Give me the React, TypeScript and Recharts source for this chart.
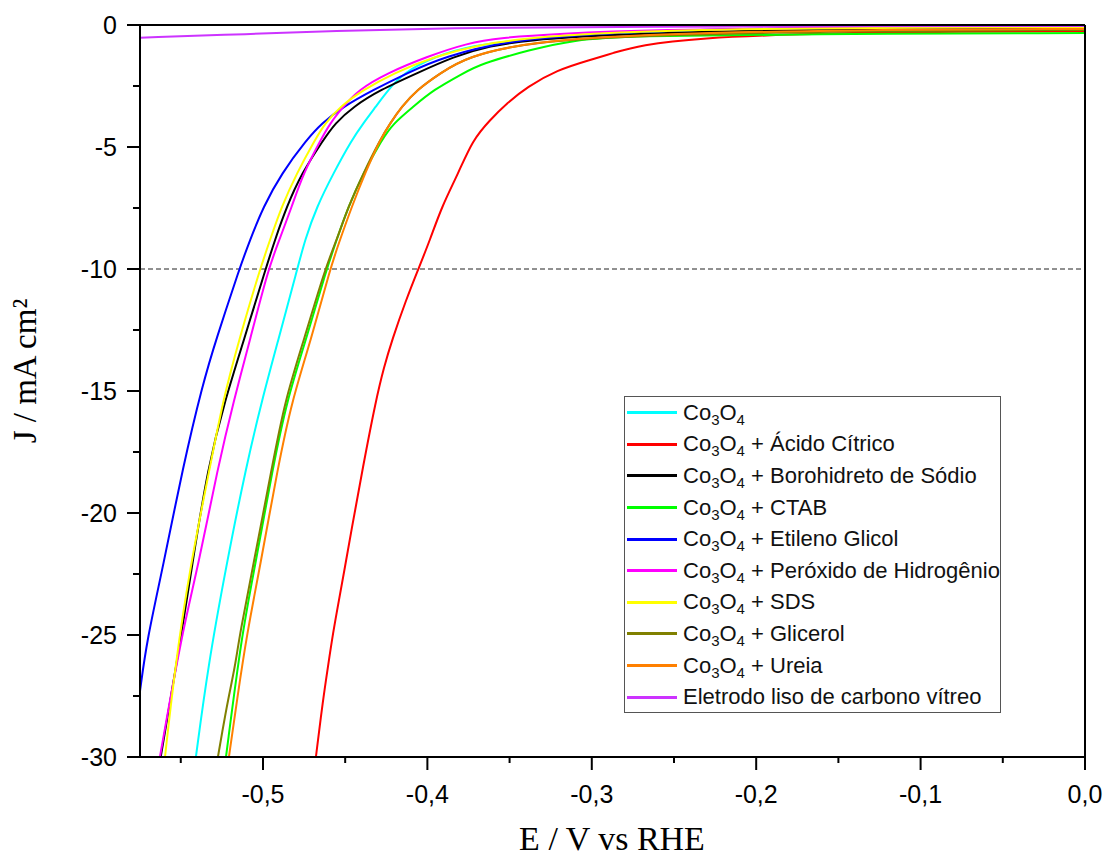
import React from 'react';
import { LineChart, Line, XAxis, YAxis, ReferenceLine, Legend } from 'recharts';

// [E (V vs RHE), J (mA cm-2)]
const co3o4: number[][] = [
  [-0.5408, -30], [-0.5335, -26.31], [-0.5225, -22.21], [-0.5103, -18.11], [-0.5006, -15.37],
  [-0.4907, -12.91], [-0.4791, -10.0], [-0.4745, -8.81], [-0.4673, -7.45], [-0.4572, -6.08],
  [-0.446, -4.71], [-0.439, -4.03], [-0.4314, -3.35], [-0.4238, -2.66], [-0.4147, -1.98],
  [-0.3964, -1.3], [-0.371, -0.82], [-0.3437, -0.61], [-0.295, -0.33], [-0.1734, -0.12], [0, -0.1],
];
const acidoCitrico: number[][] = [
  [-0.4678, -30], [-0.4635, -27.66], [-0.4605, -26.31], [-0.4574, -24.92], [-0.4538, -23.57],
  [-0.4501, -22.21], [-0.4465, -20.82], [-0.4392, -18.11], [-0.4313, -15.37], [-0.4264, -14.02],
  [-0.4215, -12.91], [-0.413, -11.27], [-0.4055, -10.0], [-0.3984, -8.81], [-0.3913, -7.45],
  [-0.3812, -6.08], [-0.3725, -4.71], [-0.3619, -3.89], [-0.3516, -3.2], [-0.3394, -2.54],
  [-0.3212, -1.84], [-0.3011, -1.43], [-0.2871, -1.15], [-0.2707, -0.82], [-0.2342, -0.53],
  [-0.1734, -0.37], [-0.1125, -0.29], [0, -0.25],
];
const borohidreto: number[][] = [
  [-0.5622, -30], [-0.5494, -24.92], [-0.5433, -22.21], [-0.5335, -18.11], [-0.5231, -15.37],
  [-0.5116, -12.91], [-0.4984, -10.0], [-0.4927, -8.81], [-0.4856, -7.45], [-0.4765, -6.08],
  [-0.4633, -4.71], [-0.4562, -4.03], [-0.4451, -3.35], [-0.4288, -2.66], [-0.4065, -1.98],
  [-0.3842, -1.3], [-0.3619, -0.85], [-0.3376, -0.62], [-0.295, -0.41], [-0.1734, -0.16], [0, -0.1],
];
const ctab: number[][] = [
  [-0.5225, -30], [-0.5128, -24.92], [-0.5049, -22.21], [-0.4939, -18.11], [-0.4854, -15.37],
  [-0.4739, -12.91], [-0.4613, -10.0], [-0.4552, -8.81], [-0.4481, -7.45], [-0.439, -6.08],
  [-0.4278, -4.71], [-0.4207, -4.03], [-0.4086, -3.35], [-0.3964, -2.66], [-0.3782, -1.98],
  [-0.368, -1.6], [-0.3376, -1.02], [-0.3114, -0.61], [-0.2768, -0.45], [-0.1734, -0.37], [0, -0.33],
];
const etilenoGlicol: number[][] = [
  [-0.5748, -27.3], [-0.5706, -25.2], [-0.5608, -22.21], [-0.5487, -18.11], [-0.5365, -14.67],
  [-0.5286, -12.91], [-0.5144, -10.0], [-0.5079, -8.81], [-0.4998, -7.45], [-0.4887, -6.08],
  [-0.4735, -4.71], [-0.4643, -4.03], [-0.4512, -3.35], [-0.4329, -2.66], [-0.4126, -1.98],
  [-0.3903, -1.3], [-0.3498, -0.62], [-0.295, -0.33], [-0.2038, -0.12], [0, -0.08],
];
const peroxido: number[][] = [
  [-0.5627, -30], [-0.5493, -24.92], [-0.5395, -22.21], [-0.5274, -18.11], [-0.5177, -15.37],
  [-0.5079, -12.91], [-0.4968, -10.0], [-0.4901, -8.81], [-0.4825, -7.45], [-0.4755, -6.08],
  [-0.4649, -4.71], [-0.4592, -4.03], [-0.4512, -3.35], [-0.442, -2.66], [-0.4248, -1.98],
  [-0.4004, -1.3], [-0.3761, -0.75], [-0.3558, -0.52], [-0.32, -0.36], [-0.2646, -0.2],
  [-0.1429, -0.08], [0, -0.04],
];
const sds: number[][] = [
  [-0.5596, -30], [-0.5535, -26.31], [-0.5444, -22.21], [-0.5322, -18.11], [-0.5243, -15.37],
  [-0.5146, -12.91], [-0.5018, -10.0], [-0.4957, -8.81], [-0.4887, -7.45], [-0.4795, -6.08],
  [-0.4684, -4.71], [-0.4623, -4.03], [-0.4532, -3.35], [-0.439, -2.66], [-0.4207, -1.98],
  [-0.3964, -1.3], [-0.368, -0.8], [-0.3437, -0.58], [-0.295, -0.29], [-0.1734, -0.12], [0, -0.08],
];
const glicerol: number[][] = [
  [-0.5274, -30], [-0.5249, -29.02], [-0.5213, -27.66], [-0.517, -26.31], [-0.514, -24.92],
  [-0.5061, -22.21], [-0.4945, -18.11], [-0.4866, -15.37], [-0.4751, -12.91], [-0.4623, -10.0],
  [-0.4552, -8.81], [-0.4481, -7.45], [-0.439, -6.08], [-0.4288, -4.71], [-0.4227, -4.03],
  [-0.4156, -3.35], [-0.4065, -2.66], [-0.3923, -1.98], [-0.3761, -1.3], [-0.3376, -0.68],
  [-0.2646, -0.42], [-0.1429, -0.25], [0, -0.2],
];
const ureia: number[][] = [
  [-0.5207, -30], [-0.5158, -27.66], [-0.5097, -24.92], [-0.5018, -22.21], [-0.4909, -18.11],
  [-0.4823, -15.37], [-0.4708, -12.91], [-0.4592, -10.0], [-0.4532, -8.81], [-0.446, -7.45],
  [-0.438, -6.08], [-0.4288, -4.71], [-0.4227, -4.03], [-0.4156, -3.35], [-0.4065, -2.66],
  [-0.3923, -1.98], [-0.3761, -1.3], [-0.3376, -0.68], [-0.2646, -0.37], [-0.1429, -0.2], [0, -0.16],
];
const carbonoVitreo: number[][] = [
  [-0.5748, -0.52], [-0.5079, -0.37], [-0.4592, -0.25], [-0.3863, -0.12], [-0.295, -0.06], [0, -0.04],
];

const seriesNames = [
  'Co3O4',
  'Co3O4 + Ácido Cítrico',
  'Co3O4 + Borohidreto de Sódio',
  'Co3O4 + CTAB',
  'Co3O4 + Etileno Glicol',
  'Co3O4 + Peróxido de Hidrogênio',
  'Co3O4 + SDS',
  'Co3O4 + Glicerol',
  'Co3O4 + Ureia',
  'Eletrodo liso de carbono vítreo',
];
const seriesColors = ['#00FFFF', '#FF0000', '#000000', '#00FF00', '#0000FF', '#FF00FF', '#FFFF00', '#808000', '#FF8000', '#CC33FF'];
const seriesData = [co3o4, acidoCitrico, borohidreto, ctab, etilenoGlicol, peroxido, sds, glicerol, ureia, carbonoVitreo];

const xTicks = [-0.55, -0.5, -0.45, -0.4, -0.35, -0.3, -0.25, -0.2, -0.15, -0.1, -0.05, 0];
const yTicks = [-30, -27.5, -25, -22.5, -20, -17.5, -15, -12.5, -10, -7.5, -5, -2.5, 0];

const SANS = '"Liberation Sans", Arial, sans-serif';
const SERIF = '"Liberation Serif", "Times New Roman", serif';

const toPts = (arr: number[][]) => arr.map(([e, j]) => ({ e, j }));

const fmt = (v: number) => {
  if (Math.abs(v) < 1e-9) return '0,0';
  return v.toFixed(1).replace('.', ',');
};

const XTick = (props: any) => {
  const { x, y, payload } = props;
  const v = payload.value as number;
  const major = Math.abs(v * 10 - Math.round(v * 10)) < 1e-6;
  return (
    <g>
      <line x1={x} x2={x} y1={y} y2={y + (major ? 13 : 6)} stroke="#000" strokeWidth={2} />
      {major && (
        <text x={x} y={y + 46} textAnchor="middle" fontSize={25} fontFamily={SANS} fill="#000">
          {fmt(v)}
        </text>
      )}
    </g>
  );
};

const YTick = (props: any) => {
  const { x, y, payload } = props;
  const v = payload.value as number;
  const major = Math.abs(v / 5 - Math.round(v / 5)) < 1e-6;
  return (
    <g>
      <line x1={x} x2={x - (major ? 13 : 7)} y1={y} y2={y} stroke="#000" strokeWidth={2} />
      {major && (
        <text x={x - 23} y={y + 9} textAnchor="end" fontSize={25} fontFamily={SANS} fill="#000">
          {String(v)}
        </text>
      )}
    </g>
  );
};

const LegendLabel = ({ name }: { name: string }) => {
  if (!name.startsWith('Co3O4')) return <span>{name}</span>;
  const rest = name.slice(5);
  const sub = { fontSize: 15, position: 'relative' as const, top: 5 };
  return (
    <span>
      Co<span style={sub}>3</span>O<span style={sub}>4</span>
      {rest}
    </span>
  );
};

const renderLegend = () => (
  <div
    style={{
      width: 377,
      height: 317,
      boxSizing: 'border-box',
      border: '1.5px solid #555',
      background: '#fff',
      fontFamily: SANS,
      fontSize: 22,
      color: '#111',
    }}
  >
    {seriesNames.map((n, i) => (
      <div key={n} style={{ height: 31.6, display: 'flex', alignItems: 'center', whiteSpace: 'nowrap' }}>
        <div style={{ width: 50, height: 3, background: seriesColors[i], marginLeft: 2, marginRight: 6 }} />
        <LegendLabel name={n} />
      </div>
    ))}
  </div>
);

export default function App() {
  return (
    <div style={{ position: 'absolute', left: 0, top: 0, width: 1111, height: 859, background: '#fff' }}>
      <LineChart width={1111} height={859} margin={{ top: 25, right: 26, bottom: 0, left: 0 }}>
        <XAxis
          xAxisId="b"
          dataKey="e"
          type="number"
          domain={[-0.5748, 0]}
          allowDataOverflow
          ticks={xTicks}
          interval={0}
          tickSize={0}
          tickMargin={0}
          tickLine={false}
          height={102}
          axisLine={{ stroke: '#000', strokeWidth: 2 }}
          tick={<XTick />}
          label={{
            content: () => (
              <text x={612} y={850} textAnchor="middle" fontSize={34} fontFamily={SERIF} fill="#000">
                E / V vs RHE
              </text>
            ),
          }}
        />
        <YAxis
          yAxisId="l"
          type="number"
          domain={[-30, 0]}
          allowDataOverflow
          ticks={yTicks}
          interval={0}
          tickSize={0}
          tickMargin={0}
          tickLine={false}
          width={140}
          axisLine={{ stroke: '#000', strokeWidth: 2 }}
          tick={<YTick />}
          label={{
            content: () => (
              <text
                x={36}
                y={371}
                transform="rotate(-90 36 371)"
                textAnchor="middle"
                fontSize={33}
                fontFamily={SERIF}
                fill="#000"
              >
                J / mA cm²
              </text>
            ),
          }}
        />
        <ReferenceLine xAxisId="b" yAxisId="l" y={-10} stroke="#222" strokeWidth={1} strokeDasharray="5 3" />
        {seriesData.map((d, i) => (
          <Line
            key={seriesNames[i]}
            xAxisId="b"
            yAxisId="l"
            data={toPts(d)}
            dataKey="j"
            name={seriesNames[i]}
            type="basis"
            stroke={seriesColors[i]}
            strokeWidth={2}
            dot={false}
            activeDot={false}
            isAnimationActive={false}
          />
        ))}
        <ReferenceLine xAxisId="b" yAxisId="l" y={0} stroke="#000" strokeWidth={2} />
        <ReferenceLine xAxisId="b" yAxisId="l" x={0} stroke="#000" strokeWidth={2} />
        <Legend
          layout="vertical"
          align="center"
          verticalAlign="middle"
          content={renderLegend}
          wrapperStyle={{ position: 'absolute', left: 624, top: 396, width: 377, height: 317 }}
        />
      </LineChart>
    </div>
  );
}
